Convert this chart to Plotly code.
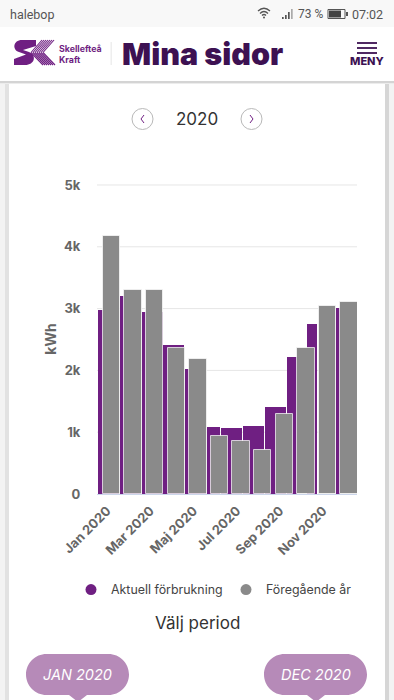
import re
import plotly.graph_objects as go

# ---- data ----
months = ["Jan", "Feb", "Mar", "Apr", "Maj", "Jun", "Jul", "Aug", "Sep", "Okt", "Nov", "Dec"]
current_kwh = [2980, 3200, 2940, 2410, 2020, 1080, 1070, 1100, 1410, 2220, 2750, 3010]
previous_kwh = [4180, 3300, 3300, 2360, 2180, 940, 850, 720, 1290, 2360, 3050, 3110]
y_ticks = [0, 1000, 2000, 3000, 4000, 5000]
y_tick_labels = ["0", "1k", "2k", "3k", "4k", "5k"]
x_tick_labels = ["Jan 2020", "Mar 2020", "Maj 2020", "Jul 2020", "Sep 2020", "Nov 2020"]

# ---- layout constants ----
W, H = 394, 700
L, R, T, B = 97, 357, 184, 494
MONTH_PX = 21.6
FIRST_CENTER = 111.5
cur_left = [97.5, 120, 141.5, 163, 185, 207, 221, 243, 265, 287, 307, 336]
cur_right = [119, 141, 163, 184, 206, 220, 242, 264, 286, 297, 317, 340]
PURPLE = "#6f1f82"
GRAY = "#8a8a8a"
DARK = "#3d1152"
PILL = "#b68ab8"
FONT = "Inter"


def ax(px):
    return (px - FIRST_CENTER) / MONTH_PX


def fx(px):
    return (px - L) / (R - L)


def fy(py):
    return (B - py) / (B - T)


def to_paper(path):
    def rep(m):
        return f"{fx(float(m.group(1))):.5f},{fy(float(m.group(2))):.5f}"
    return re.sub(r"(-?[\d.]+)[ ,](-?[\d.]+)", rep, path)


shapes = []


def rect(x0, y0, x1, y1, color, layer="below"):
    shapes.append(dict(type="rect", xref="paper", yref="paper", x0=fx(x0), x1=fx(x1), y0=fy(y0), y1=fy(y1),
                       fillcolor=color, line_width=0, layer=layer))


def path(d, fill=None, line=None, width=1, layer="above"):
    s = dict(type="path", xref="paper", yref="paper", path=to_paper(d), layer=layer)
    s["fillcolor"] = fill if fill else "rgba(0,0,0,0)"
    s["line"] = dict(color=line, width=width) if line else dict(width=0)
    shapes.append(s)


def circle(cx, cy, r, fill=None, line=None, width=1):
    shapes.append(dict(type="circle", xref="paper", yref="paper", x0=fx(cx - r), x1=fx(cx + r),
                       y0=fy(cy + r), y1=fy(cy - r), fillcolor=fill if fill else "rgba(0,0,0,0)",
                       line=dict(color=line, width=width) if line else dict(width=0), layer="above"))


def pill(x0, x1, y0, y1, tail):
    r = (y1 - y0) / 2
    k = r * 0.55
    d = (f"M{x0+r},{y0} L{x1-r},{y0} C{x1-r+k},{y0} {x1},{y0+r-k} {x1},{y0+r} "
         f"C{x1},{y1-r+k} {x1-r+k},{y1} {x1-r},{y1} L{tail+9},{y1} L{tail},{y1+7} L{tail-9},{y1} L{x0+r},{y1} "
         f"C{x0+r-k},{y1} {x0},{y1-r+k} {x0},{y1-r} C{x0},{y0+r-k} {x0+r-k},{y0} {x0+r},{y0} Z")
    path(d, fill=PILL)


# page, card and header
rect(0, 81, 5, 700, "#f3f3f3")
rect(389, 81, 394, 700, "#f3f3f3")
rect(5, 81, 9, 700, "#e2e2e2")
rect(385, 81, 389, 700, "#d6d6d6")
rect(9, 81, 385, 700, "#ffffff")
rect(0, 81, 394, 83, "#d4d4d4")
rect(0, 83, 394, 84, "#ececec")
rect(0, 0, 394, 27, "#f8f8f8")
rect(0, 27, 394, 81, "#ffffff")

# horizontal grid lines, tied to the value axis
for v in y_ticks[1:]:
    shapes.append(dict(type="line", xref="paper", x0=0, x1=1, yref="y", y0=v, y1=v,
                       line=dict(color="#e6e6e6", width=1), layer="below"))

# status bar icons
path("M258,11 Q264,5.5 270,11", line="#555555", width=1.3)
path("M260,13.5 Q264,9.5 268,13.5", line="#555555", width=1.3)
path("M262,15.5 Q264,13.5 266,15.5", line="#555555", width=1.3)
circle(264, 17.5, 1, fill="#555555")
for bx, by in [(282, 17), (285, 15), (288, 12), (291, 9)]:
    rect(bx, by, bx + 1.7, 19, "#555555" if bx < 291 else "#aaaaaa", layer="above")
path("M328,9.5 L345,9.5 L345,18.5 L328,18.5 Z", line="#555555", width=1)
rect(329, 10.5, 341, 17.5, "#444444", layer="above")
rect(346, 12, 348, 16, "#555555", layer="above")

# logo
path("M36,40 L22,40 C13,40 12,50 19,52 L26,54.5 L14,59 L14,65 L25,65 C35,65 37,55 29,52 L23,50 L36,46 Z", fill=PURPLE)
for o in range(0, 13, 2):
    path(f"M{42+o},40 L{31+o},{52.5}", line=PURPLE, width=1.1)
    path(f"M{31+o},{52.5} L{43+o},65", line=PURPLE, width=1.1)
rect(110.5, 42, 112, 65, "#eeeeee", layer="above")

# menu icon
for y in (43, 48, 53):
    rect(357, y - 0.9, 377, y + 0.9, DARK, layer="above")

# year selector
circle(142.5, 119, 10.5, line="#b9b9b9", width=1)
circle(251.5, 119, 10.5, line="#b9b9b9", width=1)
path("M144,115 L141,119 L144,123", line=PURPLE, width=1)
path("M250,115 L253,119 L250,123", line=PURPLE, width=1)

# period handles
pill(26, 129, 654, 695, 78)
pill(264, 367, 654, 695, 316)


def note(x, y, text, size, color, anchor="left", weight=400, family=FONT, style="normal"):
    return dict(xref="paper", yref="paper", x=fx(x), y=fy(y), text=text, showarrow=False, xanchor=anchor,
                yanchor="middle", align="left" if anchor == "left" else "center",
                font=dict(size=size, color=color, family=family, weight=weight, style=style))


annotations = [
    note(8, 14, "halebop", 12.5, "#555555", family="Roboto"),
    note(296, 14, "73 %", 12, "#555555", family="Roboto"),
    note(385, 14, "07:02", 12.5, "#555555", "right", family="Roboto"),
    note(57, 53.5, "Skellefteå<br>Kraft", 8.8, PURPLE, weight=700),
    note(120, 54, "Mina sidor", 30.5, DARK, weight=900),
    note(367, 61, "MENY", 11, DARK, "center", weight=800),
    note(197, 119, "2020", 17, "#333333", "center"),
    note(197, 623, "Välj period", 17, "#333333", "center"),
    note(78, 674, "JAN 2020", 14.5, "#ffffff", "center", style="italic"),
    note(316, 674, "DEC 2020", 14.5, "#ffffff", "center", style="italic"),
]

fig = go.Figure()
fig.add_bar(
    x=[ax((a + b) / 2) for a, b in zip(cur_left, cur_right)],
    y=current_kwh,
    width=[(b - a) / MONTH_PX for a, b in zip(cur_left, cur_right)],
    marker=dict(color=PURPLE, line=dict(width=0)),
    customdata=months,
    showlegend=False,
)
fig.add_bar(
    x=list(range(len(months))),
    y=previous_kwh,
    width=[17.4 / MONTH_PX] * len(months),
    marker=dict(color=GRAY, line=dict(width=1, color="rgba(255,255,255,0.7)")),
    customdata=months,
    showlegend=False,
)
fig.add_scatter(x=[None], y=[None], name="Aktuell förbrukning", mode="markers",
                marker=dict(color=PURPLE, size=11))
fig.add_scatter(x=[None], y=[None], name="Föregående år", mode="markers",
                marker=dict(color=GRAY, size=11))

fig.update_layout(
    width=W, height=H, autosize=False,
    margin=dict(l=L, r=W - R, t=T, b=H - B, pad=0),
    paper_bgcolor="#ffffff", plot_bgcolor="rgba(0,0,0,0)",
    barmode="overlay", bargap=0,
    font=dict(family=FONT, color="#666666"),
    shapes=shapes, annotations=annotations,
    legend=dict(orientation="h", x=fx(71), y=fy(575), xanchor="left", yanchor="top",
                font=dict(size=12.4, color="#444444", family=FONT),
                entrywidth=110, entrywidthmode="pixels", itemclick=False, itemdoubleclick=False,
                bgcolor="rgba(0,0,0,0)"),
    xaxis=dict(range=[ax(L), ax(R)], tickmode="array",
               tickvals=[i * 2 - 0.2 for i in range(len(x_tick_labels))], ticktext=x_tick_labels,
               tickangle=-45, ticks="outside", ticklen=3, tickcolor="rgba(0,0,0,0)",
               tickfont=dict(size=13, color="#666666", family=FONT, weight=700),
               showgrid=False, showline=True, linecolor="#ccd6eb", linewidth=1, zeroline=False, fixedrange=True),
    yaxis=dict(range=[0, 5016], tickmode="array", tickvals=y_ticks, ticktext=y_tick_labels,
               ticks="outside", ticklen=13, tickcolor="rgba(0,0,0,0)",
               tickfont=dict(size=13, color="#666666", family=FONT, weight=700),
               showgrid=False, showline=False, zeroline=False, fixedrange=True,
               title=dict(text="kWh", font=dict(size=14, color="#666666", family=FONT, weight=700), standoff=4)),
)

fig.write_html("out.html", config=dict(displayModeBar=False),
               post_script="document.body.style.margin='0';document.body.style.overflow='hidden';")
